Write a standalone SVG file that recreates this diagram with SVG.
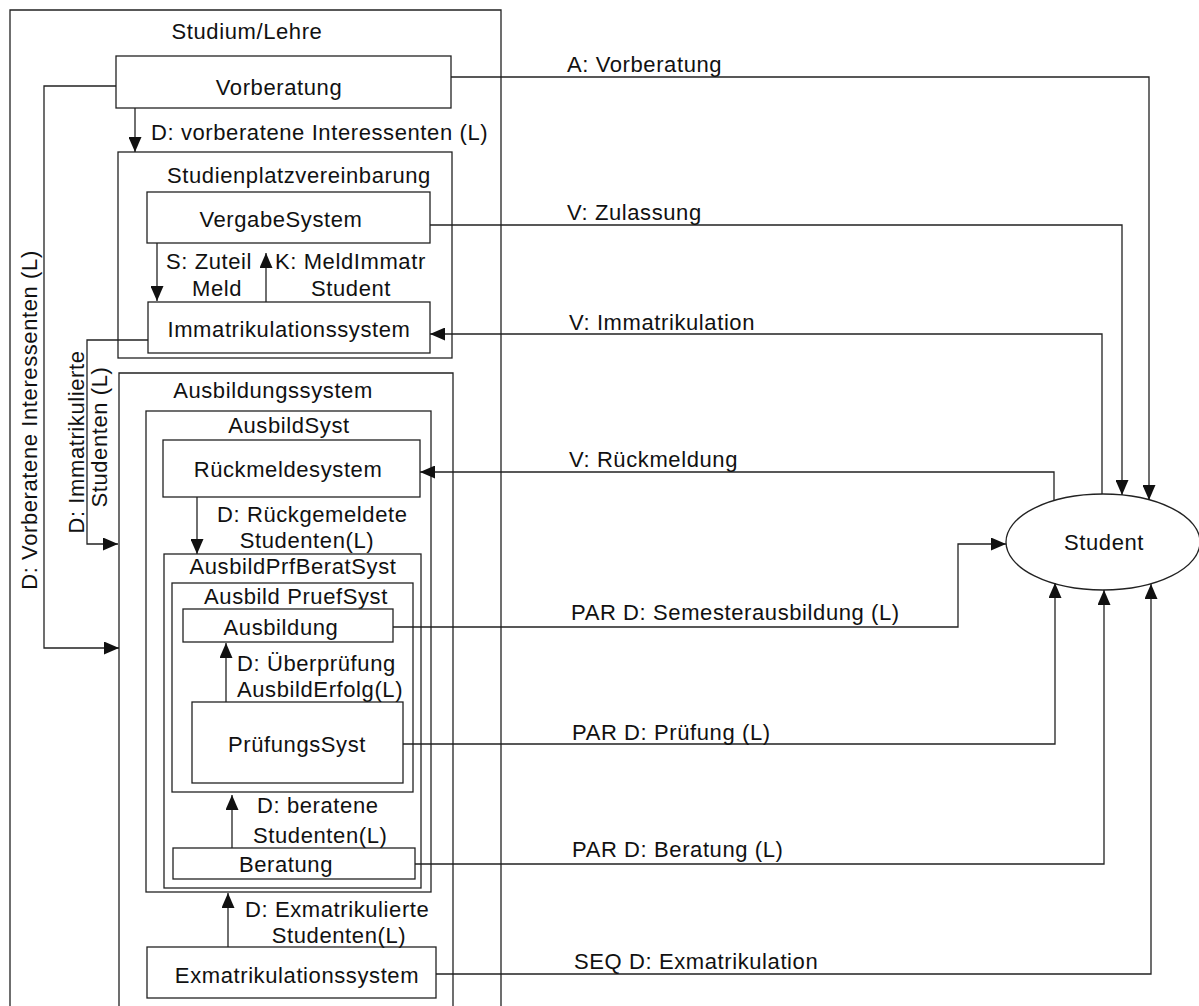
<svg xmlns="http://www.w3.org/2000/svg" width="1199" height="1006" viewBox="0 0 1199 1006">
  <style>
    text { font-family: "Liberation Sans", Arial, Helvetica, sans-serif; font-size: 22px; letter-spacing: 0.6px; fill: #111; }
    .mid { text-anchor: middle; }
    .box { fill: none; stroke: #222; stroke-width: 1.3; }
    .edge { fill: none; stroke: #222; stroke-width: 1.3; }
    .arr { marker-end: url(#tip); }
  </style>
  <defs>
    <marker id="tip" markerUnits="userSpaceOnUse" markerWidth="15" markerHeight="13" viewBox="0 0 15 13" refX="15" refY="6.5" orient="auto">
      <path d="M0,0 L15,6.5 L0,13 z" fill="#111"/>
    </marker>
  </defs>
  <rect width="1199" height="1006" fill="#fff"/>

  <!-- open container: Studium/Lehre -->
  <g id="studium-lehre">
    <path class="box" d="M10,1006 V10 H501 V1006"/>
    <text class="mid" x="247" y="39">Studium/Lehre</text>
  </g>

  <g id="vorberatung">
    <rect class="box" x="116" y="56" width="335" height="52"/>
    <text class="mid" x="279" y="95">Vorberatung</text>
  </g>

  <g id="studienplatzvereinbarung">
    <rect class="box" x="118" y="152" width="334" height="206"/>
    <text class="mid" x="299" y="183">Studienplatzvereinbarung</text>
  </g>

  <g id="vergabesystem">
    <rect class="box" x="147" y="192" width="283" height="51"/>
    <text class="mid" x="281" y="227">VergabeSystem</text>
  </g>

  <g id="immatrikulationssystem">
    <rect class="box" x="148" y="302" width="282" height="51"/>
    <text class="mid" x="289" y="337">Immatrikulationssystem</text>
  </g>

  <!-- open container: Ausbildungssystem -->
  <g id="ausbildungssystem">
    <path class="box" d="M119,1006 V373 H453 V1006"/>
    <text class="mid" x="273" y="398">Ausbildungssystem</text>
  </g>

  <g id="ausbildsyst">
    <rect class="box" x="146" y="411" width="285" height="481"/>
    <text class="mid" x="289" y="433">AusbildSyst</text>
  </g>

  <g id="rueckmeldesystem">
    <rect class="box" x="163" y="440" width="257" height="57"/>
    <text class="mid" x="288" y="477">Rückmeldesystem</text>
  </g>

  <g id="ausbildprfberatsyst">
    <rect class="box" x="164" y="554" width="257" height="334"/>
    <text class="mid" x="293" y="574">AusbildPrfBeratSyst</text>
  </g>

  <g id="ausbildpruefsyst">
    <rect class="box" x="172" y="583" width="241" height="209"/>
    <text class="mid" x="296" y="604">Ausbild PruefSyst</text>
  </g>

  <g id="ausbildung">
    <rect class="box" x="183" y="609" width="210" height="33"/>
    <text class="mid" x="281" y="635">Ausbildung</text>
  </g>

  <g id="pruefungssyst">
    <rect class="box" x="192" y="702" width="211" height="81"/>
    <text class="mid" x="297" y="752">PrüfungsSyst</text>
  </g>

  <g id="beratung">
    <rect class="box" x="173" y="848" width="242" height="31"/>
    <text class="mid" x="286" y="872">Beratung</text>
  </g>

  <g id="exmatrikulationssystem">
    <rect class="box" x="147" y="947" width="289" height="51"/>
    <text class="mid" x="297" y="983">Exmatrikulationssystem</text>
  </g>

  <g id="student">
    <ellipse class="box" cx="1103" cy="542" rx="97" ry="48"/>
    <text class="mid" x="1104" y="550">Student</text>
  </g>

  <!-- flows -->
  <g id="connectors">
    <path class="edge arr" d="M135,108 V152"/>
    <text x="151" y="140">D: vorberatene Interessenten (L)</text>

    <path class="edge arr" d="M116,86 H44 V648 H119"/>
    <text class="mid" transform="translate(37,420) rotate(-90)">D: Vorberatene Interessenten (L)</text>

    <path class="edge arr" d="M157,243 V301"/>
    <text x="166" y="269">S: Zuteil</text>
    <text class="mid" x="217" y="296">Meld</text>

    <path class="edge arr" d="M266,302 V253"/>
    <text x="275" y="269">K: MeldImmatr</text>
    <text class="mid" x="351" y="296">Student</text>

    <path class="edge arr" d="M148,340 H87 V544 H118"/>
    <text class="mid" transform="translate(84,442) rotate(-90)">D: Immatrikulierte</text>
    <text class="mid" transform="translate(107,437) rotate(-90)">Studenten (L)</text>

    <path class="edge arr" d="M197,497 V554"/>
    <text x="217" y="522">D: Rückgemeldete</text>
    <text class="mid" x="307" y="548">Studenten(L)</text>

    <path class="edge arr" d="M226,702 V643"/>
    <text x="237" y="671">D: Überprüfung</text>
    <text x="237" y="697">AusbildErfolg(L)</text>

    <path class="edge arr" d="M232,848 V795"/>
    <text x="257" y="813">D: beratene</text>
    <text x="253" y="843">Studenten(L)</text>

    <path class="edge arr" d="M228,947 V893"/>
    <text x="245" y="917">D: Exmatrikulierte</text>
    <text class="mid" x="339" y="943">Studenten(L)</text>

    <path class="edge arr" d="M451,77 H1149 V500"/>
    <text x="567" y="72">A: Vorberatung</text>

    <path class="edge arr" d="M430,225 H1122 V495"/>
    <text x="567" y="220">V: Zulassung</text>

    <path class="edge arr" d="M1102,494 V334 H430"/>
    <text x="569" y="330">V: Immatrikulation</text>

    <path class="edge arr" d="M1054,501 V472 H420"/>
    <text x="569" y="467">V: Rückmeldung</text>

    <path class="edge arr" d="M393,627 H958 V544 H1006"/>
    <text x="571" y="620">PAR D: Semesterausbildung (L)</text>

    <path class="edge arr" d="M403,744 H1055 V583"/>
    <text x="572" y="740">PAR D: Prüfung (L)</text>

    <path class="edge arr" d="M415,864 H1104 V590"/>
    <text x="572" y="857">PAR D: Beratung (L)</text>

    <path class="edge arr" d="M436,974 H1151 V584"/>
    <text x="574" y="969">SEQ D: Exmatrikulation</text>
  </g>
</svg>
